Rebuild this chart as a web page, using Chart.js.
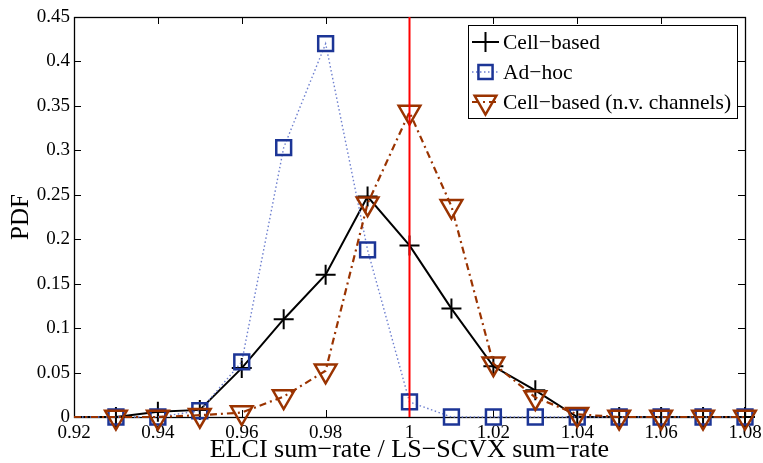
<!DOCTYPE html>
<html>
<head>
<meta charset="utf-8">
<script src="https://cdn.jsdelivr.net/npm/chart.js@4/dist/chart.umd.min.js"></script>
<style>
html,body{margin:0;padding:0;background:#fff;}
canvas{display:block;}
</style>
</head>
<body>
<canvas id="c" width="763" height="463"></canvas>
<script>
// ---- data ----
const xValues = [0.92, 0.93, 0.94, 0.95, 0.96, 0.97, 0.98, 0.99, 1.00, 1.01, 1.02, 1.03, 1.04, 1.05, 1.06, 1.07, 1.08];
const cellBased = [0, 0, 0.006, 0.008, 0.055, 0.110, 0.160, 0.248, 0.193, 0.122, 0.057, 0.030, 0, 0, 0, 0, 0];
const adHoc     = [0, 0, 0, 0.007, 0.062, 0.303, 0.420, 0.188, 0.017, 0, 0, 0, 0, 0, 0, 0, 0];
const cellNV    = [0, 0, 0, 0.002, 0.005, 0.023, 0.052, 0.240, 0.343, 0.237, 0.060, 0.022, 0.003, 0, 0, 0, 0];
const seriesLabels = ['Cell\u2212based', 'Ad\u2212hoc', 'Cell\u2212based (n.v. channels)'];
const xTicks = [0.92, 0.94, 0.96, 0.98, 1.00, 1.02, 1.04, 1.06, 1.08];
const xTickLabels = ['0.92', '0.94', '0.96', '0.98', '1', '1.02', '1.04', '1.06', '1.08'];
const yTicks = [0, 0.05, 0.10, 0.15, 0.20, 0.25, 0.30, 0.35, 0.40, 0.45];
const yTickLabels = ['0', '0.05', '0.1', '0.15', '0.2', '0.25', '0.3', '0.35', '0.4', '0.45'];
const refLineX = 1.0;
const xTitle = 'ELCI sum\u2212rate / LS\u2212SCVX sum\u2212rate';
const yTitle = 'PDF';

const FONT = "'Liberation Serif', 'DejaVu Serif', serif";
const BROWN = '#9a3300';
const BLUE = '#1c3596';
const BLUE_LINE = '#6d7fcf';

const toPts = arr => xValues.map((x, i) => ({x: x, y: arr[i]}));
const hideFirst = (r) => (ctx) => ctx.dataIndex === 0 ? 0 : r;

const frameTicks = {
  id: 'frameTicks',
  beforeDatasetsDraw(chart) {
    const {ctx, chartArea: a, scales} = chart;
    ctx.save();
    ctx.strokeStyle = '#000';
    ctx.lineWidth = 1;
    const L = 7;
    ctx.beginPath();
    scales.x.ticks.forEach(t => {
      const px = Math.round(scales.x.getPixelForValue(t.value)) + 0.5;
      ctx.moveTo(px, a.bottom); ctx.lineTo(px, a.bottom - L);
      ctx.moveTo(px, a.top); ctx.lineTo(px, a.top + L);
    });
    scales.y.ticks.forEach(t => {
      const py = Math.round(scales.y.getPixelForValue(t.value)) + 0.5;
      ctx.moveTo(a.left, py); ctx.lineTo(a.left + L, py);
      ctx.moveTo(a.right, py); ctx.lineTo(a.right - L, py);
    });
    ctx.stroke();
    ctx.lineWidth = 1.3;
    ctx.strokeRect(a.left + 0.5, a.top + 0.5, a.right - a.left, a.bottom - a.top);
    ctx.restore();
  },
  afterDatasetsDraw(chart) {
    const {ctx, chartArea: a, scales} = chart;
    ctx.save();
    // reference line
    const px = scales.x.getPixelForValue(refLineX);
    ctx.strokeStyle = '#ff0000';
    ctx.lineWidth = 2;
    ctx.beginPath();
    ctx.moveTo(px, a.top); ctx.lineTo(px, a.bottom);
    ctx.stroke();

    // legend box
    const bx = a.left + 394, by = a.top + 8;
    const bw = 269, bh = 93;
    ctx.fillStyle = '#fff';
    ctx.fillRect(bx, by, bw, bh);
    ctx.strokeStyle = '#000';
    ctx.lineWidth = 1;
    ctx.strokeRect(bx + 0.5, by + 0.5, bw, bh);
    ctx.font = '21.5px ' + FONT;
    ctx.textBaseline = 'middle';
    ctx.fillStyle = '#000';
    chart.data.datasets.forEach((ds, i) => {
      const cy = by + 17 + i * 30;
      const x0 = bx + 4, x1 = bx + 31, mx = (x0 + x1) / 2;
      ctx.save();
      ctx.strokeStyle = ds.borderColor;
      ctx.lineWidth = ds.borderWidth;
      ctx.setLineDash(ds.borderDash || []);
      ctx.beginPath(); ctx.moveTo(x0, cy); ctx.lineTo(x1, cy); ctx.stroke();
      ctx.restore();
      ctx.save();
      ctx.strokeStyle = ds.pointBorderColor;
      ctx.fillStyle = 'rgba(0,0,0,0)';
      ctx.lineWidth = ds.pointBorderWidth;
      Chart.helpers.drawPoint(ctx, {
        pointStyle: ds.pointStyle, rotation: ds.pointRotation || 0,
        radius: ds.legendRadius, borderWidth: ds.pointBorderWidth
      }, mx, cy);
      ctx.restore();
      ctx.fillStyle = '#000';
      ctx.fillText(ds.label, bx + 35, cy + 1);
    });
    ctx.restore();
  }
};

const chart = new Chart(document.getElementById('c'), {
  type: 'line',
  data: {
    datasets: [
      {
        label: seriesLabels[0], data: toPts(cellBased),
        borderColor: '#000', borderWidth: 2, pointStyle: 'cross',
        pointRadius: hideFirst(10), pointBorderColor: '#000', pointBorderWidth: 2,
        pointBackgroundColor: 'rgba(0,0,0,0)', legendRadius: 10, order: 3, clip: false
      },
      {
        label: seriesLabels[1], data: toPts(adHoc),
        borderColor: BLUE_LINE, borderWidth: 1.4, borderDash: [1.5, 2.5], pointStyle: 'rect',
        pointRadius: hideFirst(10.5), pointBorderColor: BLUE, pointBorderWidth: 2.5,
        pointBackgroundColor: 'rgba(0,0,0,0)', legendRadius: 10, order: 2, clip: false
      },
      {
        label: seriesLabels[2], data: toPts(cellNV),
        borderColor: BROWN, borderWidth: 2.2, borderDash: [7, 4, 2, 4], pointStyle: 'triangle',
        pointRotation: 180, pointRadius: hideFirst(12.5), pointBorderColor: BROWN, pointBorderWidth: 2.5,
        pointBackgroundColor: 'rgba(0,0,0,0)', legendRadius: 12.5, order: 1, clip: false
      }
    ]
  },
  options: {
    responsive: false,
    animation: false,
    events: [],
    layout: {padding: {left: 0, top: 17, right: 18, bottom: 0}},
    plugins: {legend: {display: false}, tooltip: {enabled: false}},
    elements: {line: {tension: 0, fill: false}},
    scales: {
      x: {
        type: 'linear', min: 0.92, max: 1.08,
        grid: {display: false, drawTicks: false},
        border: {display: false},
        afterBuildTicks: s => { s.ticks = xTicks.map(v => ({value: v})); },
        afterFit: s => { s.height = 46; s.paddingLeft = 0; s.paddingRight = 0; },
        ticks: {
          autoSkip: false, maxRotation: 0, padding: 5, color: '#000',
          font: {family: FONT, size: 19},
          callback: (v, i) => xTickLabels[i]
        },
        title: {display: true, text: xTitle, color: '#000', font: {family: FONT, size: 26, lineHeight: 1}, padding: {top: 0, bottom: 0}}
      },
      y: {
        type: 'linear', min: 0, max: 0.45,
        grid: {display: false, drawTicks: false},
        border: {display: false},
        afterBuildTicks: s => { s.ticks = yTicks.map(v => ({value: v})); },
        afterFit: s => { s.width = 74; s.paddingTop = 0; s.paddingBottom = 0; },
        ticks: {
          autoSkip: false, padding: 4, color: '#000',
          font: {family: FONT, size: 19},
          callback: (v, i) => yTickLabels[i]
        },
        title: {display: true, text: yTitle, color: '#000', font: {family: FONT, size: 25, lineHeight: 1}, padding: {top: 8.5, bottom: 0}}
      }
    }
  },
  plugins: [frameTicks]
});
</script>
</body>
</html>
